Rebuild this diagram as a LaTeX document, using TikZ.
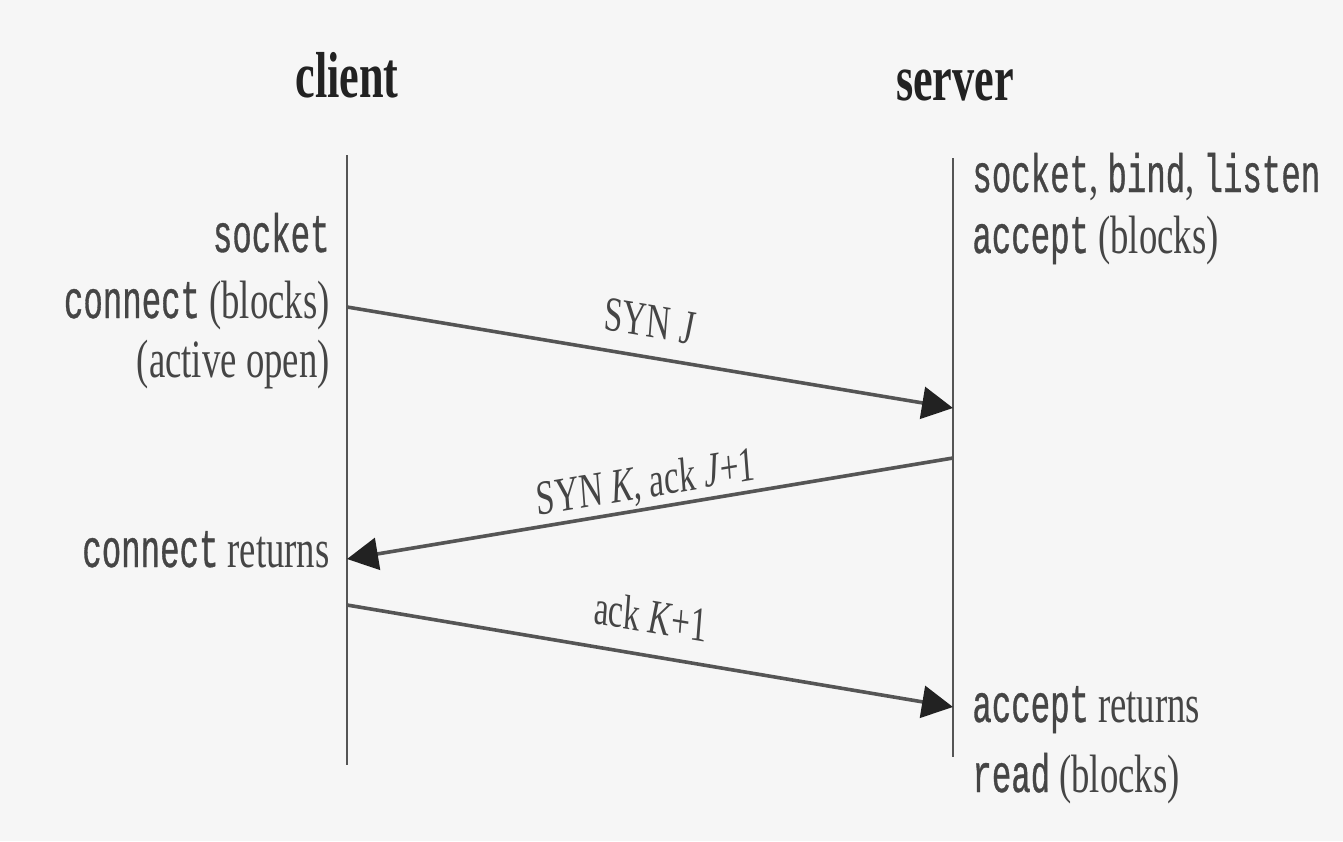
\documentclass[tikz,border=0pt]{standalone}
\usepackage{fontspec}
\setmainfont{Liberation Serif}[FakeStretch=0.68]
\newfontfamily\codefont{Liberation Mono}[FakeStretch=0.6,FakeBold=0.6]
\newfontfamily\tagfont{Liberation Serif}
\usetikzlibrary{arrows.meta,calc}

\definecolor{paper}{HTML}{F6F6F6}
\definecolor{ink}{HTML}{454545}
\definecolor{lineink}{HTML}{555555}
\definecolor{titleink}{HTML}{222222}

\newcommand{\cw}[1]{{\codefont #1}}

\tikzset{
  lifeline/.style={draw=lineink, line width=1.1pt},
  msg/.style={draw=lineink, line width=1.8pt,
    -{Triangle[length=15.5pt,width=16pt,color=titleink]}},
  party/.style={inner sep=0pt, text=titleink, anchor=base,
    font=\fontsize{32.5}{39}\selectfont\bfseries},
  lefttag/.style={inner sep=0pt, text=ink, anchor=base east,
    font=\fontsize{27}{32}\selectfont},
  righttag/.style={inner sep=0pt, text=ink, anchor=base west,
    font=\fontsize{27}{32}\selectfont},
  % segment labels: turned to follow the segment, then narrowed
  msgtag/.style={inner sep=0pt, text=ink, anchor=center,
    font=\tagfont\fontsize{24.5}{29}\selectfont,
    xscale=0.68, rotate=#1}
}

\begin{document}
\begin{tikzpicture}[x=0.5pt, y=-0.5pt]
  % page
  \fill[paper] (0,0) rectangle (1343,841);
  \useasboundingbox (0,0) rectangle (1343,841);

  % the two parties
  \node[party] (client) at (347,97) {client};
  \node[party] (server) at (955,100) {server};

  % lifelines
  \coordinate (ctop) at (347,155);
  \coordinate (cbot) at (347,765);
  \coordinate (stop) at (953,158);
  \coordinate (sbot) at (953,757);
  \draw[lifeline] (ctop) -- (cbot);
  \draw[lifeline] (stop) -- (sbot);

  % client side calls
  \node[lefttag] (csock) at (330,252) {\cw{socket}};
  \node[lefttag] (cconn) at (330,318) {\cw{connect} (blocks)};
  \node[lefttag] (cact)  at (330,377) {(active open)};
  \node[lefttag] (cret)  at (330,567) {\cw{connect} returns};

  % server side calls
  \node[righttag] (ssock) at (972,192) {\cw{socket}, \cw{bind}, \cw{listen}};
  \node[righttag] (sacc)  at (972,253) {\cw{accept} (blocks)};
  \node[righttag] (sret)  at (972,722) {\cw{accept} returns};
  \node[righttag] (sread) at (972,792) {\cw{read} (blocks)};

  % segment end points on the lifelines
  \coordinate (c1) at (347,307);
  \coordinate (s1) at (953,408);
  \coordinate (s2) at (953,458);
  \coordinate (c2) at (347,559);
  \coordinate (c3) at (347,605);
  \coordinate (s3) at (953,707);

  % three-way handshake
  \draw[msg] (c1) -- (s1);
  \draw[msg] (s2) -- (c2);
  \draw[msg] (c3) -- (s3);

  \node[msgtag=-6.5] (syn)    at ($(c1)!0.5!(s1)+(0,-36)$) {SYN \textit{J}};
  \node[msgtag=6.5]  (synack) at ($(s2)!0.5!(c2)+(-4,-24)$) {SYN \textit{K}, ack \textit{J}+1};
  \node[msgtag=-6.5] (ack)    at ($(c3)!0.5!(s3)+(1,-40)$) {ack \textit{K}+1};
\end{tikzpicture}
\end{document}
